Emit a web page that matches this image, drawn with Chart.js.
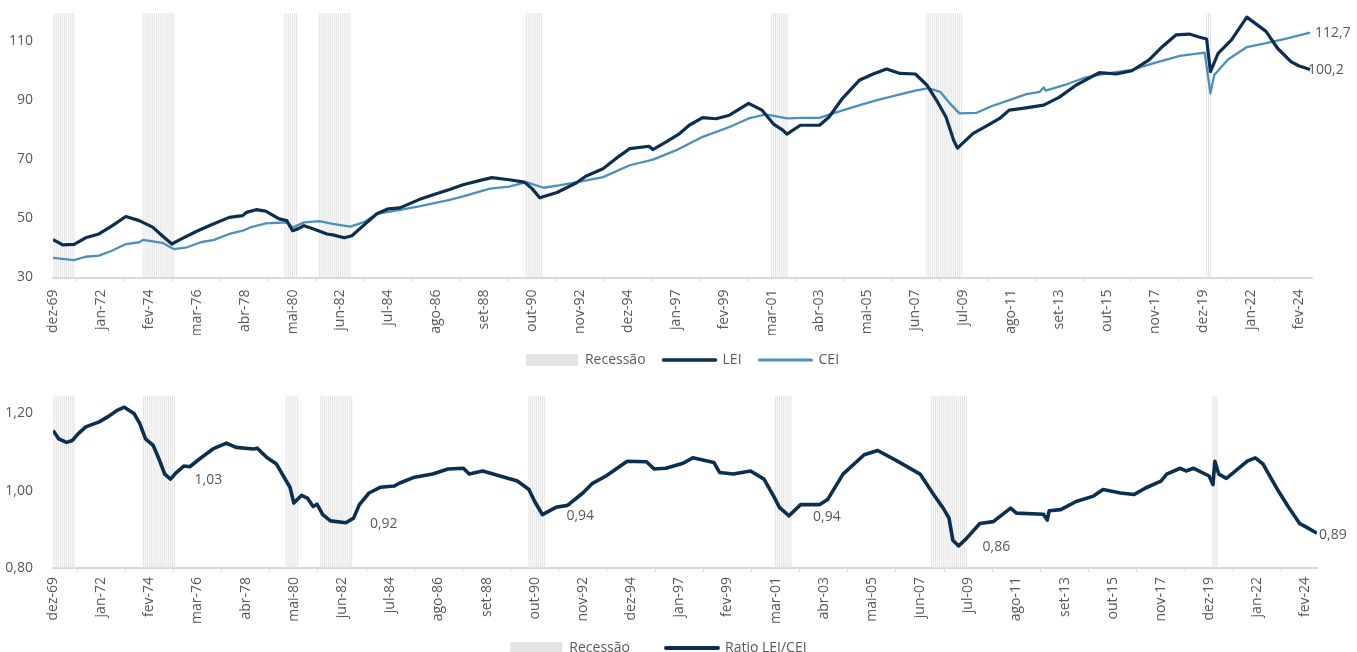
<!DOCTYPE html>
<html>
<head>
<meta charset="utf-8">
<script src="https://cdn.jsdelivr.net/npm/chart.js@4.4.0/dist/chart.umd.min.js"></script>
<style>
  html, body { margin:0; padding:0; background:#fff; overflow:hidden; }
  #chartTop { position:absolute; left:0; top:0; }
  #chartBottom { position:absolute; left:0; top:380px; }
</style>
</head>
<body>
<canvas id="chartTop" width="1357" height="377"></canvas>
<canvas id="chartBottom" width="1357" height="303"></canvas>
<script>
// months counted from dez-69 (0)
const tickMonths = [0,25,50,75,100,125,150,175,200,225,250,275,300,325,350,375,400,425,450,475,500,525,550,575,600,625,650];
const tickLabels = ['dez-69','jan-72','fev-74','mar-76','abr-78','mai-80','jun-82','jul-84','ago-86','set-88','out-90','nov-92','dez-94','jan-97','fev-99','mar-01','abr-03','mai-05','jun-07','jul-09','ago-11','set-13','out-15','nov-17','dez-19','jan-22','fev-24'];

// recessions: first and last month
const recessionStart = [0, 47, 121, 139, 247, 375, 456, 602];
const recessionEnd   = [11, 63, 127, 155, 255, 383, 474, 604];

const leiMonths = [0,3,5,11,17,24,31,38,45,52,57,62,66,75,83,92,99,101,106,111,118,122,125,128,131,136,143,146,152,156,160,169,175,181,191,200,207,214,223,229,238,246,250,254,263,273,278,287,294,301,311,313,320,327,332,339,346,353,360,363,370,376,381,383,390,400,405,412,421,428,435,442,450,456,461,466,470,472,480,487,494,499,506,517,525,534,546,555,563,572,579,586,593,598,602,604,608,615,623,633,639,646,650,656];
const leiValues = [42.8,41.8,41.0,41.2,43.4,44.7,47.5,50.6,49.2,47.0,44.1,41.3,42.7,45.6,47.9,50.3,50.9,52.0,52.9,52.4,49.8,49.2,45.8,46.5,47.5,46.4,44.7,44.4,43.4,44.1,46.4,51.5,53.2,53.5,56.3,58.3,59.7,61.3,62.8,63.7,63.0,62.2,60.0,56.9,58.7,61.9,64.2,66.7,70.3,73.5,74.3,73.2,75.8,78.6,81.4,84.0,83.6,84.8,87.6,88.8,86.5,81.8,79.7,78.4,81.4,81.4,84.2,90.5,96.7,98.7,100.4,98.9,98.7,95.0,89.9,84.2,76.3,73.7,78.6,81.1,83.7,86.5,87.1,88.2,90.8,95.0,99.2,98.7,99.8,103.5,108.0,111.9,112.2,111.2,110.5,99.5,105.7,110.2,117.9,113.1,107.4,102.9,101.5,100.2];

const ceiMonths = [0,11,17,24,31,38,45,47,57,63,70,77,84,92,99,103,111,122,125,131,139,146,155,162,169,181,191,207,214,228,238,247,256,264,275,287,301,313,325,339,353,363,372,383,391,400,407,421,430,442,450,457,463,468,473,482,490,499,508,515,517,518,528,539,551,563,574,588,601,604,606,613,623,633,643,656];
const ceiValues = [36.6,35.9,37.0,37.4,39.1,41.3,41.9,42.7,41.7,39.6,40.2,41.9,42.7,44.7,45.8,46.9,48.3,48.6,46.9,48.6,49.0,48.1,47.2,48.6,51.5,52.8,54.0,56.2,57.4,60.0,60.7,62.2,60.3,61.1,62.4,63.9,67.9,69.8,72.9,77.5,80.8,83.7,85.1,83.7,83.9,83.9,85.4,88.2,89.9,91.8,93.1,93.9,92.7,88.8,85.4,85.6,87.9,89.9,91.9,92.7,94.2,93.1,95.0,97.6,99.0,100.1,102.3,104.8,105.9,92.2,98.4,103.5,107.8,109.1,110.6,112.7];

const ratioMonths = [0,3,7,10,13,17,24,29,33,37,42,45,48,52,55,58,61,64,68,71,76,83,90,95,104,106,111,116,119,123,125,129,132,135,137,140,144,152,156,159,164,170,177,180,187,197,205,213,216,223,232,241,247,250,254,261,267,275,280,287,298,308,312,318,327,332,343,346,353,362,369,374,377,382,388,398,402,410,421,428,438,450,457,462,465,467,470,474,481,488,497,500,514,516,517,523,531,540,545,554,561,567,575,578,585,588,592,600,602,603,605,609,620,624,628,635,641,647,650,656];
const ratioValues = [1.156,1.134,1.125,1.130,1.147,1.165,1.178,1.193,1.207,1.216,1.200,1.174,1.134,1.117,1.082,1.043,1.030,1.047,1.064,1.062,1.082,1.108,1.123,1.112,1.108,1.110,1.086,1.069,1.043,1.009,0.968,0.988,0.981,0.959,0.965,0.938,0.922,0.917,0.929,0.964,0.994,1.009,1.012,1.020,1.034,1.043,1.056,1.058,1.043,1.051,1.038,1.025,1.003,0.972,0.938,0.957,0.962,0.994,1.019,1.038,1.076,1.075,1.056,1.058,1.071,1.085,1.073,1.047,1.043,1.051,1.030,0.986,0.957,0.935,0.964,0.964,0.977,1.043,1.093,1.104,1.077,1.043,0.990,0.955,0.929,0.872,0.857,0.876,0.915,0.920,0.955,0.942,0.939,0.924,0.948,0.951,0.972,0.986,1.003,0.994,0.990,1.007,1.025,1.043,1.058,1.051,1.058,1.038,1.016,1.076,1.043,1.032,1.077,1.085,1.069,1.007,0.959,0.915,0.907,0.890];

const ratioNoteMonths = [61, 152, 254, 382, 470, 656];
const ratioNoteTexts  = ['1,03', '0,92', '0,94', '0,94', '0,86', '0,89'];

const topYTicks = [30, 50, 70, 90, 110];
const bottomYTicks = [0.8, 1.0, 1.2];

const NAVY = '#0c2f4f';
const LIGHT = '#4a90bb';
const GREY_TXT = '#595959';

Chart.defaults.font.family = "'Open Sans', sans-serif";
Chart.defaults.font.size = 14;
Chart.defaults.color = GREY_TXT;

function pts(xs, ys){
  return xs.map((x, i) => ({ x: x, y: ys[i] }));
}

function recessionBars(){
  const out = [];
  recessionStart.forEach((s, k) => {
    for (let m = s; m <= recessionEnd[k]; m++) out.push({ x: m, y: 1 });
  });
  return out;
}

const comma = v => String(v).replace('.', ',');

const noteLabels = {
  id: 'noteLabels',
  afterDatasetsDraw(chart, args, opts){
    const ctx = chart.ctx;
    ctx.save();
    ctx.font = "14px 'Open Sans'";
    ctx.fillStyle = GREY_TXT;
    ctx.textAlign = 'left';
    ctx.textBaseline = 'middle';
    (opts.items || []).forEach(it => {
      const x = chart.scales.x.getPixelForValue(it.x) + it.dx;
      const y = chart.scales.y.getPixelForValue(it.y) + it.dy;
      ctx.fillText(it.text, x, y);
    });
    ctx.restore();
  }
};

// wider item gap in the lower legend also adds space above it; pull it back up
const liftLegend = {
  id: 'liftLegend',
  afterLayout(chart, args, opts){
    const lg = chart.legend;
    if (lg && opts.dy) { lg.top -= opts.dy; lg.bottom -= opts.dy; }
  }
};

function legendItems(chart){
  return chart.data.datasets.map((ds, i) => {
    const bar = ds.type === 'bar';
    return {
      text: ds.label,
      datasetIndex: i,
      fillStyle: bar ? '#e3e3e3' : ds.borderColor,
      strokeStyle: bar ? '#e3e3e3' : ds.borderColor,
      lineWidth: bar ? 0 : ds.legendWidth,
      lineCap: 'round',
      pointStyle: bar ? 'rect' : 'line',
      fontColor: GREY_TXT,
      hidden: false
    };
  });
}

function xAxis(max, pad, h){
  return {
    type: 'linear',
    min: 0,
    max: max,
    offset: false,
    afterBuildTicks: s => { s.ticks = tickMonths.map(v => ({ value: v })); },
    afterFit: s => { s.height = h; s.paddingLeft = 0; s.paddingRight = 0; },
    ticks: {
      autoSkip: false,
      maxRotation: 90,
      minRotation: 90,
      padding: pad,
      color: GREY_TXT,
      font: { size: 14 },
      callback: (v, i) => tickLabels[i]
    },
    grid: { display: true, drawOnChartArea: false, drawTicks: true, tickLength: 4, color: '#d9d9d9' },
    border: { display: true, color: '#d9d9d9', width: 2 }
  };
}

function yAxis(min, max, ticks, fmt){
  return {
    min: min,
    max: max,
    afterBuildTicks: s => { s.ticks = ticks.map(v => ({ value: v })); },
    afterFit: s => { s.width = 53; s.paddingTop = 0; s.paddingBottom = 0; },
    ticks: { padding: 20, color: GREY_TXT, font: { size: 14 }, callback: fmt },
    grid: { display: false, drawTicks: false },
    border: { display: false }
  };
}

const recAxis = { display: false, min: 0, max: 1 };

const recDataset = {
  type: 'bar',
  label: 'Recessão',
  data: recessionBars(),
  yAxisID: 'yRec',
  backgroundColor: '#e4e4e4',
  barPercentage: 0.55,
  categoryPercentage: 1,
  inflateAmount: 0,
  order: 5
};

function legendLabels(gap){
  return {
    usePointStyle: true,
    pointStyleWidth: 52,
    boxHeight: 12,
    padding: gap,
    color: GREY_TXT,
    font: { size: 14 },
    generateLabels: legendItems
  };
}

new Chart(document.getElementById('chartTop'), {
  type: 'line',
  data: {
    datasets: [
      recDataset,
      { label: 'LEI', data: pts(leiMonths, leiValues), borderColor: NAVY, borderWidth: 3.2, legendWidth: 3.5,
        pointRadius: 0, tension: 0, borderJoinStyle: 'round', order: 1 },
      { label: 'CEI', data: pts(ceiMonths, ceiValues), borderColor: LIGHT, borderWidth: 2.3, legendWidth: 3,
        pointRadius: 0, tension: 0, borderJoinStyle: 'round', order: 2 }
    ]
  },
  options: {
    responsive: false,
    animation: false,
    layout: { padding: { left: 0, right: 45, top: 13, bottom: 0 } },
    scales: {
      x: xAxis(657, 8, 57.5),
      y: yAxis(30, 119.3, topYTicks, v => String(v)),
      yRec: recAxis
    },
    plugins: {
      legend: { position: 'bottom', fullSize: false, labels: legendLabels(18) },
      tooltip: { enabled: false },
      noteLabels: {
        items: [
          { x: leiMonths[leiMonths.length - 1], y: leiValues[leiValues.length - 1], text: comma(leiValues[leiValues.length - 1]), dx: -2, dy: 0 },
          { x: ceiMonths[ceiMonths.length - 1], y: ceiValues[ceiValues.length - 1], text: comma(ceiValues[ceiValues.length - 1]), dx: 5, dy: 0 }
        ]
      }
    }
  },
  plugins: [noteLabels]
});

const ratioNotes = ratioNoteMonths.map((m, k) => {
  const last = k === ratioNoteMonths.length - 1;
  return {
    x: m,
    y: ratioValues[ratioMonths.indexOf(m)],
    text: ratioNoteTexts[k],
    dx: last ? 2 : 24,
    dy: last ? 2 : 1
  };
});

new Chart(document.getElementById('chartBottom'), {
  type: 'line',
  data: {
    datasets: [
      Object.assign({}, recDataset),
      { label: 'Ratio LEI/CEI', data: pts(ratioMonths, ratioValues), borderColor: NAVY, borderWidth: 3.6, legendWidth: 4,
        pointRadius: 0, tension: 0, borderJoinStyle: 'round', order: 1 }
    ]
  },
  options: {
    responsive: false,
    animation: false,
    layout: { padding: { left: 0, right: 40, top: 16, bottom: 0 } },
    scales: {
      x: xAxis(656, 5, 55),
      y: yAxis(0.8, 1.245, bottomYTicks, v => v.toFixed(2).replace('.', ',')),
      yRec: recAxis
    },
    plugins: {
      legend: { position: 'bottom', fullSize: true, labels: legendLabels(36) },
      liftLegend: { dy: 18 },
      tooltip: { enabled: false },
      noteLabels: { items: ratioNotes }
    }
  },
  plugins: [noteLabels, liftLegend]
});
</script>
</body>
</html>
